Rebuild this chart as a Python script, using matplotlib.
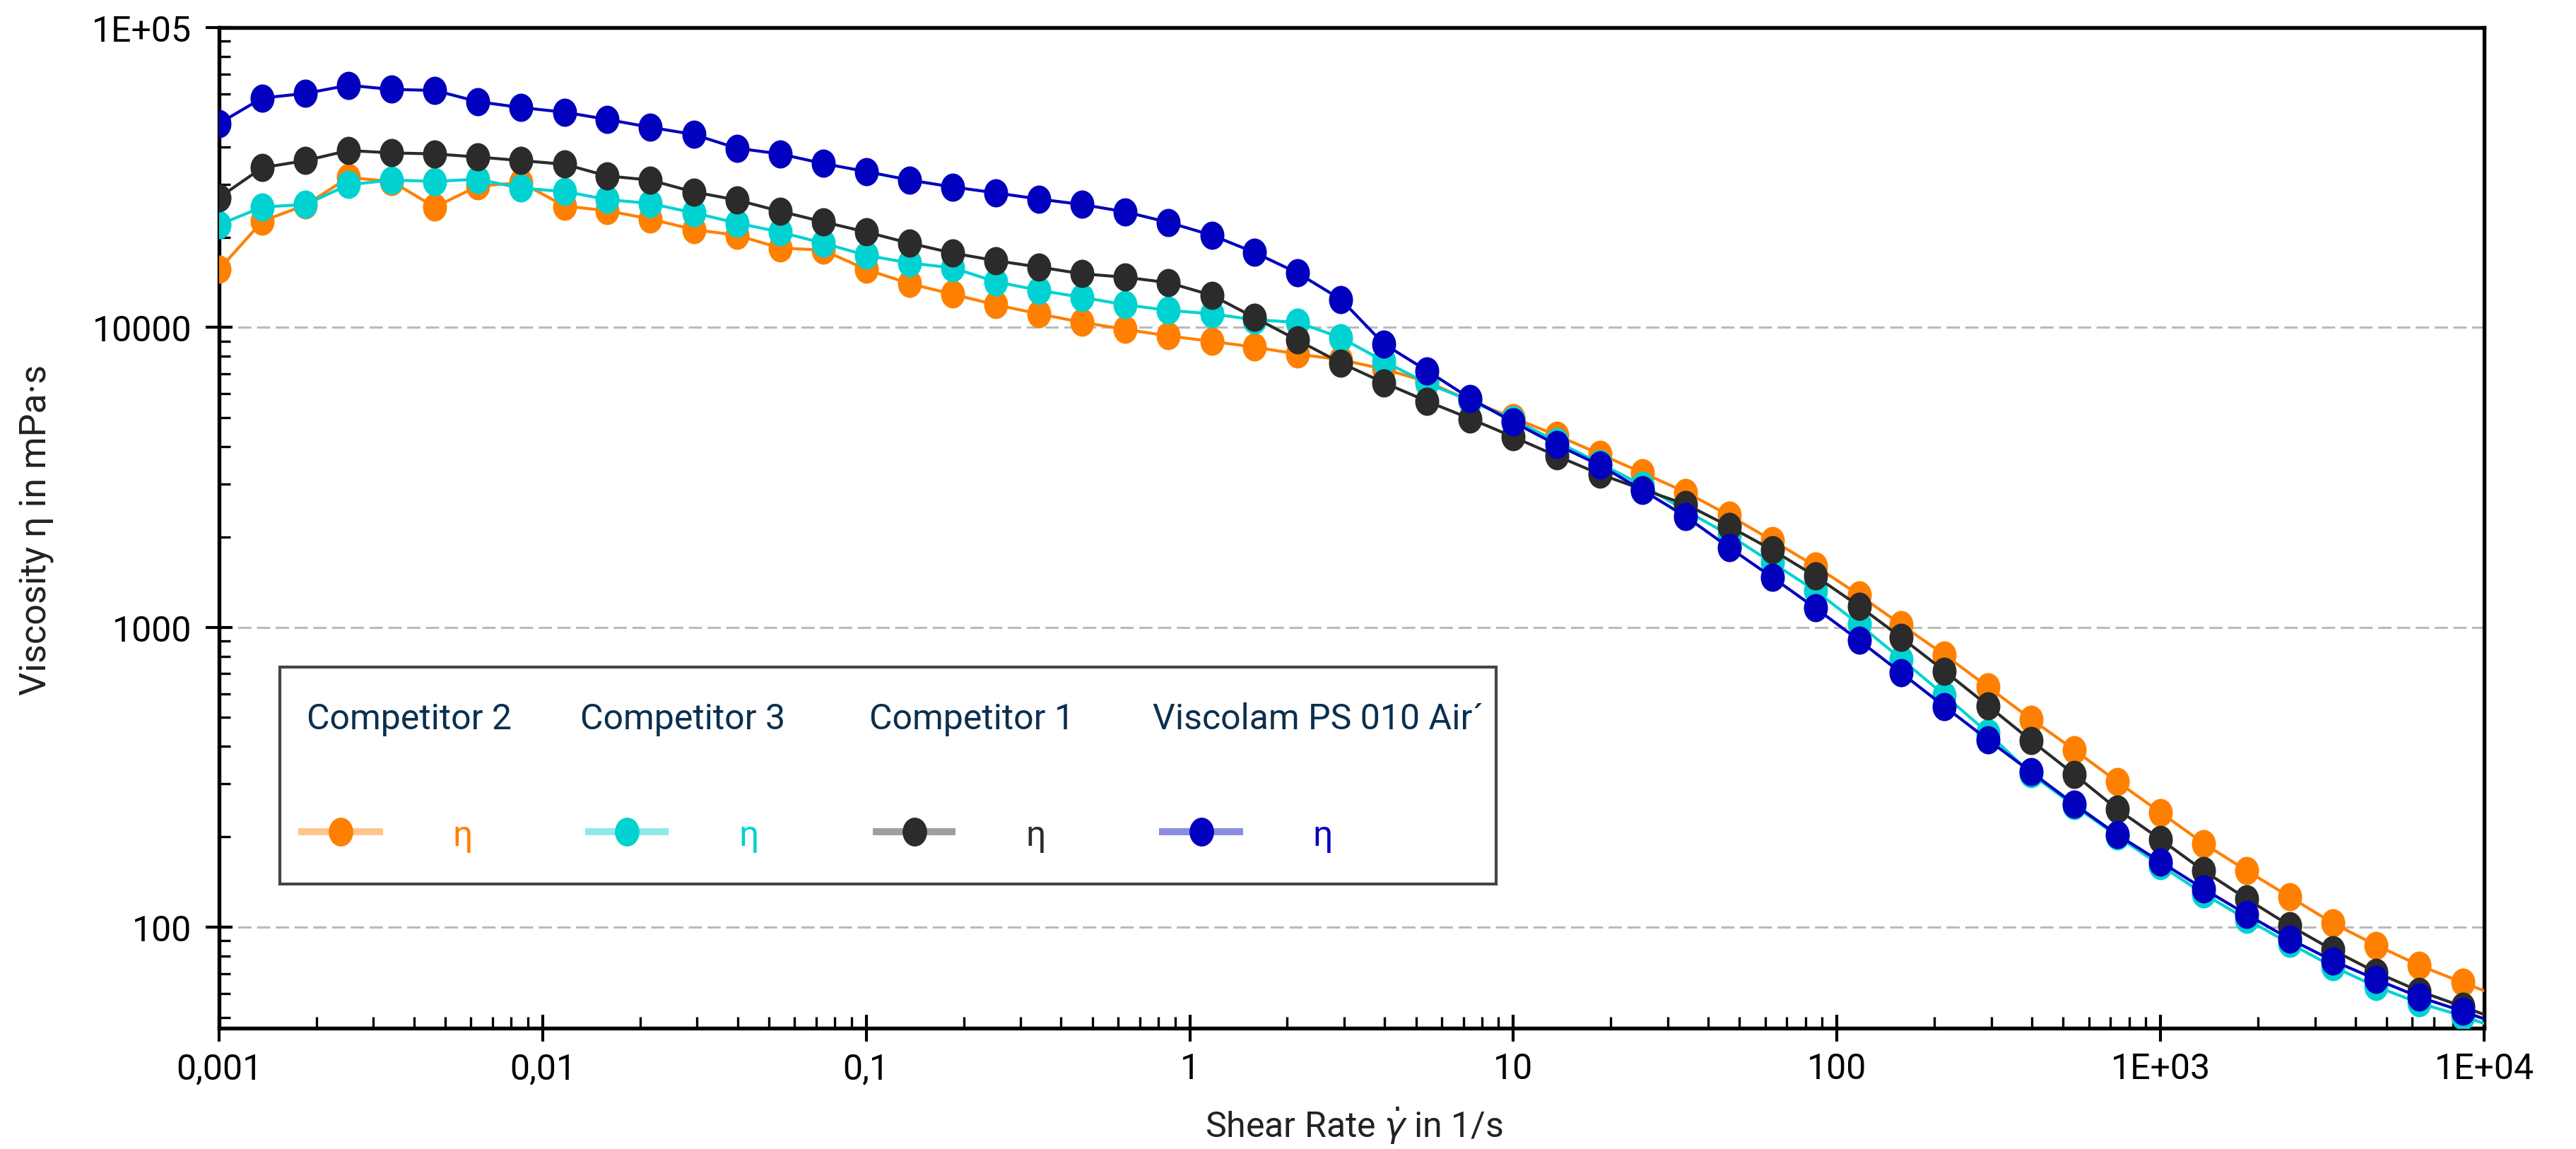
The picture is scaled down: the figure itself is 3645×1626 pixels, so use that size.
import numpy as np
import matplotlib
matplotlib.use('Agg')
import matplotlib.pyplot as plt
from matplotlib.path import Path
from matplotlib.transforms import Affine2D
from matplotlib.lines import Line2D
from matplotlib.patches import Rectangle
from matplotlib.ticker import FixedLocator, FixedFormatter, LogLocator, NullFormatter

plt.rcParams['font.family'] = ['Roboto', 'DejaVu Sans']

# ---------------- data ----------------
shear_rate = [0.001, 0.00136, 0.00185, 0.00251, 0.00341, 0.00464, 0.00631, 0.00858,
              0.0117, 0.0158, 0.0215, 0.0293, 0.0398, 0.0541, 0.0736,
              0.1, 0.136, 0.185, 0.251, 0.341, 0.464, 0.631, 0.858,
              1.17, 1.58, 2.15, 2.93, 3.98, 5.41, 7.36,
              10, 13.6, 18.5, 25.1, 34.1, 46.4, 63.1, 85.8,
              117, 158, 215, 293, 398, 541, 736,
              1000, 1360, 1850, 2510, 3410, 4640, 6310, 8580, 11700]

competitor2 = [15600, 22600, 25600, 31600, 30700, 25200, 29600, 30400, 25400, 24500,
               23000, 21200, 20300, 18400, 18100, 15600, 14000, 12900, 11900, 11100,
               10400, 9850, 9370, 8980, 8600, 8150, 7800, 7260, 6590, 5690,
               4990, 4370, 3780, 3270, 2820, 2360, 1947, 1598, 1282, 1019,
               809, 632, 494, 390, 305, 241, 190, 154, 126, 103,
               86.9, 74.5, 65.3, 57.5]

competitor3 = [22000, 25200, 25700, 29900, 31000, 30700, 31200, 29100, 28400, 26700,
               25900, 24100, 22300, 20800, 19100, 17400, 16400, 15800, 14200, 13300,
               12600, 11900, 11400, 11100, 10600, 10400, 9240, 7710, 6510, 5690,
               4930, 4160, 3520, 2970, 2450, 2030, 1640, 1324, 1023, 783,
               593, 444, 324, 254, 201, 160.5, 129, 106, 88.1, 73.8,
               63.3, 55.8, 50.5, 45.0]

competitor1 = [27100, 34100, 36000, 38900, 38200, 37900, 37000, 36000, 35000, 32000,
               31000, 28300, 26600, 24400, 22500, 20800, 19100, 17700, 16700, 15900,
               15100, 14700, 14100, 12800, 10800, 9070, 7610, 6540, 5670, 4960,
               4310, 3730, 3240, 2880, 2570, 2170, 1810, 1480, 1176, 924,
               714, 547, 419, 323, 247, 196, 154, 124, 101, 83.8,
               70.6, 61.1, 54.3, 48.0]

viscolam = [47900, 58200, 60300, 64200, 62200, 61700, 56600, 54100, 52200, 49400,
            46500, 44000, 39600, 37900, 35200, 33100, 31000, 29400, 28100, 26800,
            25700, 24300, 22400, 20300, 17800, 15200, 12400, 8800, 7170, 5790,
            4830, 4060, 3470, 2860, 2340, 1845, 1467, 1159, 904, 704,
            544, 421, 329, 257, 203, 165, 134, 110, 91.2, 77.2,
            66.9, 58.4, 52.4, 46.5]

series_names = ['Competitor 2', 'Competitor 3', 'Competitor 1', 'Viscolam PS 010 Air\u00b4']
series_values = [competitor2, competitor3, competitor1, viscolam]
series_colors = ['#FF8000', '#00D2D2', '#2B2B2B', '#0000BE']

x_ticks = [0.001, 0.01, 0.1, 1, 10, 100, 1000, 10000]
x_ticklabels = ['0,001', '0,01', '0,1', '1', '10', '100', '1E+03', '1E+04']
y_ticks = [100, 1000, 10000, 100000]
y_ticklabels = ['100', '1000', '10000', '1E+05']

# ---------------- figure ----------------
W, H = 3645, 1627
DPI = 300
fig = plt.figure(figsize=(W / DPI, H / DPI), dpi=DPI)
fig.patch.set_facecolor('white')

AX_L, AX_R, AX_T, AX_B = 310, 3515, 40, 1456
ax = fig.add_axes([AX_L / W, 1 - AX_B / H, (AX_R - AX_L) / W, (AX_B - AX_T) / H])

def axc(X, Y):
    return ((X - AX_L) / (AX_R - AX_L), (AX_B - Y) / (AX_B - AX_T))

ell = Affine2D().scale(0.85, 1.0).transform_path(Path.unit_circle())

for vals, col in zip(series_values, series_colors):
    ax.plot(shear_rate, vals, color=col, lw=1.0, marker=ell, markersize=9.6,
            markeredgewidth=0, markerfacecolor=col, zorder=3)

ax.set_xscale('log')
ax.set_yscale('log')
ax.set_xlim(1e-3, 1e4)
ax.set_ylim(46, 1e5)

ax.xaxis.set_major_locator(FixedLocator(x_ticks))
ax.xaxis.set_major_formatter(FixedFormatter(x_ticklabels))
ax.yaxis.set_major_locator(FixedLocator(y_ticks))
ax.yaxis.set_major_formatter(FixedFormatter(y_ticklabels))
for a in (ax.xaxis, ax.yaxis):
    a.set_minor_locator(LogLocator(base=10, subs=np.arange(2, 10)))
    a.set_minor_formatter(NullFormatter())

ax.tick_params(which='major', direction='inout', length=9, width=1.0,
               labelsize=12, colors='black')
ax.tick_params(which='minor', direction='in', length=3.8, width=0.8)
ax.tick_params(axis='y', which='major', pad=4.8)
ax.tick_params(axis='x', which='major', pad=3.5)

for s in ax.spines.values():
    s.set_linewidth(1.3)
    s.set_color('black')

ax.grid(axis='y', which='major', color='#BBBBBB', ls=(0, (6, 2.5)), lw=0.75, zorder=0)
ax.grid(axis='x', which='both', visible=False)
ax.set_axisbelow(True)

# ---------------- legend (manual) ----------------
x0, y0 = axc(396, 1252)
x1, y1 = axc(2117, 945)
ax.add_patch(Rectangle((x0, y0), x1 - x0, y1 - y0, transform=ax.transAxes,
                       facecolor='white', edgecolor='#444444', lw=1.0, zorder=10,
                       clip_on=False))
label_x = [434, 821, 1230, 1631]
handle_x = [(427, 537), (833, 941), (1240, 1347), (1645, 1754)]
eta_x = [655, 1060, 1466, 1872]
for name, col, lx, (hx0, hx1), ex in zip(series_names, series_colors, label_x, handle_x, eta_x):
    tx, ty = axc(lx, 1018)
    ax.text(tx, ty, name, transform=ax.transAxes, ha='left', va='center',
            fontsize=12, color='#0B2F4F', zorder=11)
    a0 = axc(hx0, 1178)
    a1 = axc(hx1, 1178)
    ax.add_line(Line2D([a0[0], a1[0]], [a0[1], a1[1]], transform=ax.transAxes,
                       color=col, alpha=0.45, lw=2.4, zorder=11, clip_on=False))
    m = axc((hx0 + hx1) / 2, 1178)
    ax.add_line(Line2D([m[0]], [m[1]], transform=ax.transAxes, marker=ell,
                       markersize=9.8, markeredgewidth=0, color=col, zorder=12,
                       clip_on=False))
    e = axc(ex, 1197)
    ax.text(e[0], e[1], '\u03b7', transform=ax.transAxes, ha='center', va='baseline',
            fontsize=12, color=col, zorder=12)

# ---------------- axis labels ----------------
fig.text(1916 / W, 1 - 1610 / H, r'Shear Rate $\dot{\gamma}$ in 1/s', ha='center',
         va='baseline', fontsize=12, color='#222222')
fig.text(52 / W, 1 - 750 / H, 'Viscosity \u03b7 in mPa\u00b7s', ha='center', va='center',
         rotation=90, fontsize=12.5, color='#222222')

fig.savefig('out.png', dpi=DPI, facecolor='white')
